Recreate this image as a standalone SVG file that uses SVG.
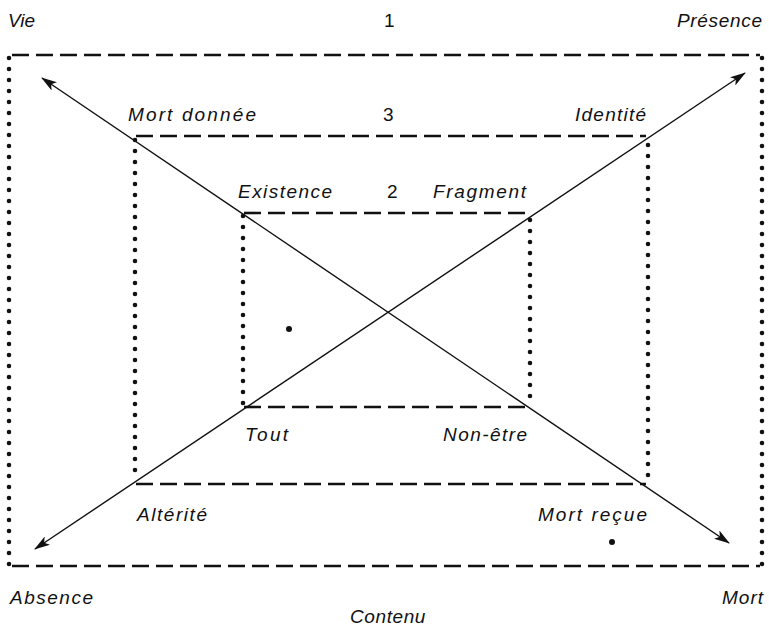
<svg xmlns="http://www.w3.org/2000/svg" width="769" height="630" viewBox="0 0 769 630">
<defs>
<style>
.dash{stroke:#111;stroke-width:2.6;stroke-dasharray:17 7;fill:none}
.dot{stroke:#111;stroke-width:4.6;stroke-linecap:round;stroke-dasharray:0 11;fill:none}
.ax{stroke:#111;stroke-width:1.4;fill:none}
text{font-family:"Liberation Sans",Arial,sans-serif;font-style:italic;font-size:19px;fill:#111}
.num{font-style:normal}
</style>
<marker id="ah" viewBox="0 0 16 10" refX="15" refY="5" markerWidth="16" markerHeight="10" markerUnits="userSpaceOnUse" orient="auto-start-reverse">
<path d="M0,0 L16,5 L0,10 L4,5 z" fill="#111"/>
</marker>
</defs>
<rect width="769" height="630" fill="#fff"/>
<g id="frame1">
<line class="dash" x1="12" y1="55" x2="760" y2="55"/>
<line class="dash" x1="12" y1="566" x2="760" y2="566"/>
<line class="dot" x1="9" y1="58" x2="9" y2="566"/>
<line class="dot" x1="762" y1="58" x2="762" y2="566"/>
</g>
<g id="frame3">
<line class="dash" x1="136" y1="136" x2="646" y2="136"/>
<line class="dash" x1="136" y1="484" x2="646" y2="484"/>
<line class="dot" x1="135" y1="140" x2="135" y2="480"/>
<line class="dot" x1="648" y1="145" x2="648" y2="480"/>
</g>
<g id="frame2">
<line class="dash" x1="244" y1="213" x2="528" y2="213"/>
<line class="dash" x1="244" y1="407" x2="528" y2="407"/>
<line class="dot" x1="243" y1="216" x2="243" y2="404"/>
<line class="dot" x1="530" y1="220" x2="530" y2="402"/>
</g>
<g id="connectors">
<line class="ax" x1="42" y1="78" x2="729" y2="543" marker-start="url(#ah)" marker-end="url(#ah)"/>
<line class="ax" x1="35" y1="549" x2="745" y2="73" marker-start="url(#ah)" marker-end="url(#ah)"/>
</g>
<g id="marks">
<circle cx="289" cy="329" r="3" fill="#111"/>
<circle cx="612" cy="542" r="3" fill="#111"/>
</g>
<g id="labels">
<text x="8" y="27" textLength="27" lengthAdjust="spacing">Vie</text>
<text class="num" x="384" y="27">1</text>
<text x="677" y="27" textLength="85" lengthAdjust="spacing">Présence</text>
<text x="128" y="121" textLength="128" lengthAdjust="spacing">Mort donnée</text>
<text class="num" x="383" y="121">3</text>
<text x="575" y="121" textLength="71" lengthAdjust="spacing">Identité</text>
<text x="238" y="198" textLength="94" lengthAdjust="spacing">Existence</text>
<text class="num" x="387" y="198">2</text>
<text x="433" y="198" textLength="93" lengthAdjust="spacing">Fragment</text>
<text x="245" y="441" textLength="43" lengthAdjust="spacing">Tout</text>
<text x="443" y="441" textLength="84" lengthAdjust="spacing">Non-être</text>
<text x="137" y="521" textLength="70" lengthAdjust="spacing">Altérité</text>
<text x="538" y="521" textLength="109" lengthAdjust="spacing">Mort reçue</text>
<text x="10" y="604" textLength="83" lengthAdjust="spacing">Absence</text>
<text x="722" y="604" textLength="41" lengthAdjust="spacing">Mort</text>
<text x="350" y="623" letter-spacing="0.6">Contenu</text>
</g>
</svg>
